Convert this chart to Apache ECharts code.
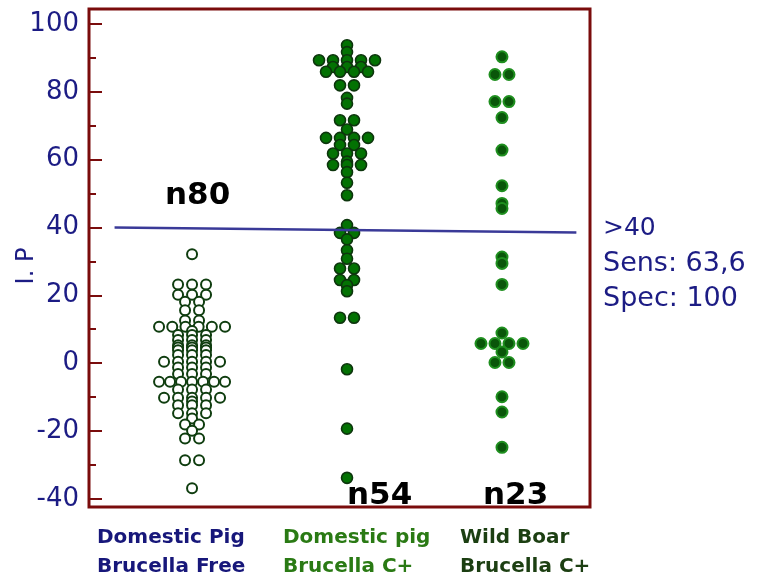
<!DOCTYPE html>
<html><head><meta charset="utf-8">
<script src="https://cdn.jsdelivr.net/npm/echarts@6/dist/echarts.min.js"></script>
<style>html,body{margin:0;padding:0;background:#fff}#c{width:765px;height:578px}</style>
</head><body><div id="c"></div>
<script>
// ---------------- data ----------------
const groupLabels = [
  ['Domestic Pig', 'Brucella Free'],
  ['Domestic pig', 'Brucella C+'],
  ['Wild Boar', 'Brucella C+']
];
const groupCounts = ['n80', 'n54', 'n23'];
const yAxisTitle = 'I. P';

const freeValues = [
  32.1,
  23.2, 23.2, 23.2,
  20.2, 20.2, 20.2,
  18.1, 18.1,
  15.6, 15.6,
  12.6, 12.6,
  10.7, 10.7, 10.7, 10.7, 10.7, 10.7,
  9.5,
  8.3, 8.3, 8.3,
  6.8, 6.8, 6.8,
  5.3, 5.3, 5.3,
  4.6, 4.6, 4.6,
  3.8, 3.8, 3.8,
  2.4, 2.4, 2.4,
  0.4, 0.4, 0.4, 0.4, 0.4,
  -1.3, -1.3, -1.3,
  -3.2, -3.2, -3.2,
  -5.5, -5.5, -5.5, -5.5, -5.5, -5.5, -5.5,
  -7.8, -7.8, -7.8,
  -10.2, -10.2, -10.2, -10.2, -10.2,
  -11.3,
  -12.4, -12.4, -12.4,
  -14.8, -14.8, -14.8,
  -16.3,
  -18.1, -18.1,
  -19.9,
  -22.2, -22.2,
  -28.6, -28.6,
  -36.9
];

const positiveValues = [
  93.7, 91.7,
  89.3, 89.3, 89.3, 89.3, 89.3,
  87.3, 87.3, 87.3,
  85.9, 85.9, 85.9, 85.9,
  81.9, 81.9,
  78.2, 76.5,
  71.6, 71.6,
  68.9,
  66.4, 66.4, 66.4, 66.4,
  64.3, 64.3,
  61.8, 61.8, 61.8,
  59.4,
  58.4, 58.4, 58.4,
  56.3, 53.2, 49.5,
  40.7, 38.4, 38.4, 36.5,
  33.3, 30.8,
  27.9, 27.9,
  24.5, 24.5,
  23.0, 21.2,
  13.4, 13.4,
  -1.8, -19.3, -33.8
];

const boarValues = [
  90.3,
  85.1, 85.1,
  77.1, 77.1,
  72.4, 62.8, 52.3, 47.1, 45.6,
  31.3, 29.4, 23.2, 8.9,
  5.8, 5.8, 5.8, 5.8,
  3.3,
  0.2, 0.2,
  -9.9, -14.4, -24.8
];

const yTickValues = [-40, -20, 0, 20, 40, 60, 80, 100];
const yMinorTickValues = [-30, -10, 10, 30, 50, 70, 90];
const cutoffLine = [[0.5, 40.0], [3.48, 38.5]];
const cutoffNotes = ['>40', 'Sens: 63,6', 'Spec: 100'];

// ---------------- layout ----------------
const X_MIN = 0.335, X_MAX = 3.568;
const GRID = { left: 89, right: 175, top: 9, bottom: 71 };
const PX_PER_UNIT = (765 - GRID.left - GRID.right) / (X_MAX - X_MIN);

function swarm(values, center) {
  const rows = new Map();
  values.forEach(v => { if (!rows.has(v)) rows.set(v, 0); rows.set(v, rows.get(v) + 1); });
  const out = [];
  rows.forEach((n, v) => {
    const step = n > 1 ? Math.min(14, 66 / (n - 1)) : 0;
    for (let i = 0; i < n; i++) {
      out.push([center + (i - (n - 1) / 2) * step / PX_PER_UNIT, v]);
    }
  });
  return out;
}

const NAVY = '#1c1c84';
const FRAME = '#7a0c0c';
const FONT = 'DejaVu Sans';

const chart = echarts.init(document.getElementById('c'), null, { renderer: 'canvas' });

const catColors = ['#17177a', '#2a7a14', '#1c3f12'];
const catLeft = [97, 283, 460];
const countPos = [[165, 180], [347, 480], [483, 480]];

const graphics = [];
groupLabels.forEach((lines, i) => {
  graphics.push({
    type: 'text', left: catLeft[i], top: 523,
    style: { text: lines.join('\n'), fill: catColors[i], font: 'bold 20px "' + FONT + '"', lineHeight: 29 }
  });
});
groupCounts.forEach((t, i) => {
  graphics.push({
    type: 'text', left: countPos[i][0], top: countPos[i][1],
    style: { text: t, fill: '#000', font: 'bold 31px "' + FONT + '"' }
  });
});
graphics.push({
  type: 'text', left: 603, top: 216,
  style: { text: cutoffNotes[0], fill: NAVY, font: '25px "' + FONT + '"' }
});
graphics.push({
  type: 'text', left: 603, top: 246,
  style: { text: cutoffNotes.slice(1).join('\n'), fill: NAVY, font: '27px "' + FONT + '"', lineHeight: 35 }
});
graphics.push({
  type: 'text', x: 27, y: 266, rotation: Math.PI / 2,
  style: { text: yAxisTitle, fill: NAVY, font: '24px "' + FONT + '"', align: 'center', verticalAlign: 'middle' }
});

const yBase = {
  type: 'value', min: -42.4, max: 104.4, position: 'left', offset: 0,
  splitLine: { show: false }, axisLine: { show: false }
};

chart.setOption({
  animation: false,
  backgroundColor: '#fff',
  grid: {
    left: GRID.left, right: GRID.right, top: GRID.top, bottom: GRID.bottom,
    show: true, borderColor: FRAME, borderWidth: 3, backgroundColor: 'transparent',
    containLabel: false, outerBoundsMode: 'none'
  },
  xAxis: {
    type: 'value', min: X_MIN, max: X_MAX, show: false
  },
  yAxis: [
    Object.assign({}, yBase, {
      axisTick: { show: true, inside: true, length: 13, customValues: yTickValues,
        lineStyle: { color: FRAME, width: 2 } },
      axisLabel: { show: true, customValues: yTickValues, color: NAVY, fontSize: 26,
        fontFamily: FONT, margin: 10 }
    }),
    Object.assign({}, yBase, {
      axisTick: { show: true, inside: true, length: 7, customValues: yMinorTickValues,
        lineStyle: { color: FRAME, width: 2 } },
      axisLabel: { show: false }
    })
  ],
  graphic: graphics,
  series: [
    {
      type: 'scatter', name: groupLabels[0].join(' '),
      data: swarm(freeValues, 1), symbol: 'circle', symbolSize: 10,
      itemStyle: { color: '#fff', borderColor: '#0f3d0f', borderWidth: 2, opacity: 1 },
      z: 3
    },
    {
      type: 'scatter', name: groupLabels[1].join(' '),
      data: swarm(positiveValues, 2), symbol: 'circle', symbolSize: 11,
      itemStyle: { color: '#037203', borderColor: '#0d350d', borderWidth: 1.6, opacity: 1 },
      z: 3,
      markLine: {
        silent: true, symbol: 'none', animation: false,
        label: { show: false },
        lineStyle: { color: '#3a3a98', width: 2.5, type: 'solid' },
        data: [[{ coord: cutoffLine[0] }, { coord: cutoffLine[1] }]]
      }
    },
    {
      type: 'scatter', name: groupLabels[2].join(' '),
      data: swarm(boarValues, 3), symbol: 'circle', symbolSize: 11,
      itemStyle: { color: '#0a560a', borderColor: '#1f8f1f', borderWidth: 2, opacity: 1 },
      z: 3
    }
  ]
});
</script>
</body></html>
